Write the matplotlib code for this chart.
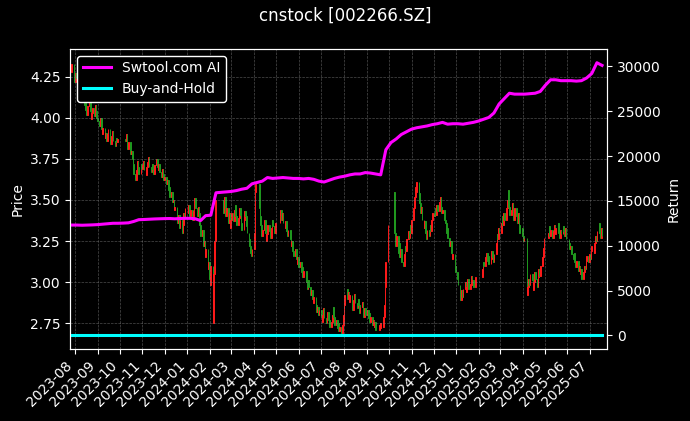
import matplotlib
matplotlib.use('Agg')
import matplotlib.pyplot as plt
import matplotlib.dates as mdates
import numpy as np
import pandas as pd

# ------------------------------------------------------------
# data
# ------------------------------------------------------------
holidays = ['2023-09-29', '2023-10-02', '2023-10-03', '2023-10-04', '2023-10-05', '2023-10-06',
            '2024-01-01', '2024-02-09', '2024-02-12', '2024-02-13', '2024-02-14', '2024-02-15',
            '2024-02-16', '2024-04-04', '2024-04-05', '2024-05-01', '2024-05-02', '2024-05-03',
            '2024-06-10', '2024-09-16', '2024-09-17', '2024-10-01', '2024-10-02', '2024-10-03',
            '2024-10-04', '2024-10-07', '2025-01-01', '2025-01-28', '2025-01-29', '2025-01-30',
            '2025-01-31', '2025-02-03', '2025-02-04', '2025-04-04', '2025-05-01', '2025-05-02',
            '2025-05-05', '2025-06-02']

close = [
    # 2023-07
    4.28, 4.33, 4.25,
    # 2023-08
    4.22, 4.27, 4.24, 4.18, 4.20, 4.15, 4.12, 4.16, 4.10, 4.08, 4.13, 4.05, 4.02, 4.07, 4.10,
    4.04, 3.99, 4.03, 4.06, 4.01, 4.08, 4.04, 4.00,
    # 2023-09
    3.98, 3.95, 4.00, 3.93, 3.90, 3.94, 3.88, 3.91, 3.86, 3.90, 3.93, 3.87, 3.84, 3.89, 3.92,
    3.86, 3.83, 3.88, 3.85, 3.87,
    # 2023-10
    3.86, 3.90, 3.84, 3.81, 3.85, 3.78, 3.80, 3.75, 3.72, 3.66, 3.62, 3.68, 3.74, 3.70, 3.66,
    3.72, 3.69,
    # 2023-11
    3.71, 3.74, 3.68, 3.65, 3.70, 3.73, 3.76, 3.70, 3.67, 3.72, 3.69, 3.66, 3.71, 3.75, 3.70,
    3.68, 3.72, 3.67, 3.64, 3.69, 3.66, 3.62,
    # 2023-12
    3.64, 3.60, 3.62, 3.56, 3.58, 3.52, 3.55, 3.49, 3.50, 3.44, 3.46, 3.40, 3.36, 3.41, 3.33,
    3.38, 3.30, 3.35, 3.42, 3.39, 3.45,
    # 2024-01
    3.42, 3.47, 3.40, 3.44, 3.38, 3.43, 3.48, 3.51, 3.45, 3.40, 3.46, 3.42, 3.35, 3.28, 3.32,
    3.22, 3.25, 3.15, 3.20, 3.08, 3.12, 3.02,
    # 2024-02
    2.98, 3.10, 2.75, 3.05, 3.25, 3.50, 3.42, 3.48, 3.52, 3.40, 3.45, 3.36, 3.42, 3.33, 3.38,
    # 2024-03
    3.42, 3.37, 3.44, 3.47, 3.40, 3.35, 3.39, 3.45, 3.41, 3.36, 3.32, 3.38, 3.43, 3.40, 3.34,
    3.30, 3.26, 3.22, 3.18, 3.16, 3.20,
    # 2024-04
    3.30, 3.55, 3.60, 3.45, 3.40, 3.35, 3.28, 3.32, 3.38, 3.30, 3.25, 3.29, 3.35, 3.31, 3.27,
    3.33, 3.38, 3.34, 3.30, 3.36,
    # 2024-05
    3.40, 3.44, 3.38, 3.42, 3.36, 3.33, 3.37, 3.31, 3.28, 3.32, 3.26, 3.22, 3.25, 3.19, 3.16,
    3.20, 3.14, 3.11, 3.15, 3.09,
    # 2024-06
    3.12, 3.06, 3.09, 3.03, 3.07, 3.00, 2.96, 3.01, 2.97, 2.92, 2.95, 2.90, 2.87, 2.91, 2.86,
    2.82, 2.85, 2.80, 2.83,
    # 2024-07
    2.79, 2.76, 2.80, 2.84, 2.78, 2.75, 2.79, 2.82, 2.77, 2.73, 2.76, 2.80, 2.85, 2.79, 2.74,
    2.77, 2.72, 2.75, 2.70, 2.73, 2.69, 2.74, 2.80,
    # 2024-08
    2.86, 2.92, 2.96, 2.90, 2.94, 2.88, 2.92, 2.86, 2.83, 2.89, 2.93, 2.87, 2.84, 2.90, 2.86,
    2.81, 2.85, 2.88, 2.82, 2.79, 2.84, 2.80,
    # 2024-09
    2.83, 2.78, 2.81, 2.76, 2.79, 2.74, 2.77, 2.73, 2.76, 2.71, 2.74, 2.72, 2.75, 2.73, 2.79,
    2.86, 2.97, 3.12, 3.35,
    # 2024-10
    3.55, 3.30, 3.22, 3.28, 3.18, 3.24, 3.15, 3.20, 3.12, 3.10, 3.17, 3.22, 3.19, 3.26, 3.31,
    3.27, 3.35, 3.30,
    # 2024-11
    3.38, 3.45, 3.52, 3.58, 3.55, 3.61, 3.54, 3.48, 3.42, 3.46, 3.38, 3.33, 3.37, 3.30, 3.26,
    3.32, 3.28, 3.35, 3.31, 3.38, 3.42,
    # 2024-12
    3.40, 3.45, 3.41, 3.47, 3.43, 3.49, 3.52, 3.46, 3.42, 3.44, 3.38, 3.36, 3.30, 3.33, 3.27,
    3.22, 3.25, 3.18, 3.14, 3.17, 3.10, 3.06,
    # 2025-01
    3.02, 2.98, 2.93, 2.89, 2.95, 2.91, 2.96, 3.00, 2.94, 2.97, 3.02, 2.96, 2.99, 3.04, 2.98,
    3.01, 2.97, 3.03,
    # 2025-02
    3.08, 3.12, 3.10, 3.15, 3.18, 3.13, 3.16, 3.11, 3.14, 3.19, 3.15, 3.12, 3.17, 3.24, 3.29,
    3.26, 3.33, 3.30,
    # 2025-03
    3.36, 3.40, 3.35, 3.42, 3.38, 3.45, 3.50, 3.56, 3.46, 3.41, 3.44, 3.48, 3.42, 3.38, 3.45,
    3.40, 3.36, 3.42, 3.35, 3.30, 3.33,
    # 2025-04
    3.28, 3.25, 3.27, 2.92, 2.97, 3.02, 2.98, 3.05, 3.01, 2.95, 3.00, 3.06, 3.02, 2.97, 3.03,
    3.08, 3.04, 3.10, 3.15, 3.21, 3.27,
    # 2025-05
    3.30, 3.34, 3.28, 3.32, 3.27, 3.31, 3.35, 3.29, 3.33, 3.36, 3.30, 3.27, 3.32, 3.29, 3.34,
    3.31, 3.28, 3.33, 3.26,
    # 2025-06
    3.24, 3.20, 3.22, 3.17, 3.14, 3.18, 3.12, 3.09, 3.13, 3.07, 3.10, 3.05, 3.08, 3.02, 3.06,
    3.10, 3.08, 3.13, 3.16, 3.12,
    # 2025-07
    3.17, 3.14, 3.19, 3.22, 3.18, 3.24, 3.28, 3.25, 3.31, 3.36, 3.30, 3.27, 3.33, 3.28,
]

# weekly strategy equity (right axis)
ai_return = [
    # 2023
    12300, 12300, 12280, 12300, 12320, 12350, 12400, 12450, 12500, 12500, 12520, 12550,
    12700, 12900, 12920, 12950, 12980, 13000, 13020, 13030, 13000, 13030, 13050,
    # 2024
    13050, 13000, 12800, 13350, 13400, 15900, 15950, 16000, 16050, 16150, 16300, 16400,
    16900, 17050, 17200, 17600, 17500, 17550, 17600, 17550, 17500, 17500, 17450, 17500,
    17400, 17200, 17100, 17300, 17500, 17650, 17750, 17900, 18000, 18000, 18150, 18100,
    18000, 17900, 20700, 21500, 21900, 22400, 22700, 23000, 23150, 23250, 23350, 23500,
    23600, 23750, 23550, 23600,
    # 2025
    23600, 23550, 23650, 23750, 23900, 24100, 24300, 24800, 25800, 26400, 27000, 26900,
    26900, 26900, 26950, 27000, 27200, 27900, 28500, 28500, 28400, 28400, 28400, 28350,
    28400, 28700, 29200, 30400, 30100,
]

trade_days = pd.bdate_range('2023-07-27', '2025-07-18')
trade_days = trade_days[~trade_days.isin(pd.to_datetime(holidays))]
n = min(len(trade_days), len(close))
trade_days = trade_days[:n]
close = np.array(close[:n])
open_ = np.r_[close[0], close[:-1]]

week_dates = pd.date_range('2023-07-28', '2025-07-18', freq='W-FRI')
m = min(len(week_dates), len(ai_return))
week_dates = week_dates[:m]
ai_return = np.array(ai_return[:m])
bh_return = np.zeros(m)

# ------------------------------------------------------------
# plot
# ------------------------------------------------------------
plt.style.use('dark_background')
fig = plt.figure(figsize=(6.9, 4.21), dpi=100)
ax = fig.add_axes([0.102, 0.171, 0.778, 0.713])
ax2 = ax.twinx()

up = close >= open_
colors = np.where(up, '#ff1a1a', '#1f9a1f')
x = mdates.date2num(trade_days)
ax.bar(x, close - open_, bottom=open_, width=1.0, color=colors,
       edgecolor=colors, linewidth=0.7)

ax2.plot(week_dates, ai_return, color='#ff00ff', lw=2.2, label='Swtool.com AI')
ax2.plot(week_dates, bh_return, color='#00ffff', lw=2.2, label='Buy-and-Hold')

ax.set_xlim(mdates.date2num(pd.Timestamp('2023-07-26')), mdates.date2num(pd.Timestamp('2025-07-25')))
ax.set_ylim(2.593, 4.42)
ax2.set_ylim(-1520, 31950)

ax.xaxis.set_major_locator(mdates.MonthLocator())
ax.xaxis.set_major_formatter(mdates.DateFormatter('%Y-%m'))
plt.setp(ax.get_xticklabels(), rotation=45, ha='right')

ax.grid(True, color='gray', linestyle='--', linewidth=0.5, alpha=0.6)
ax.set_ylabel('Price')
ax2.set_ylabel('Return')
fig.suptitle('cnstock [002266.SZ]', fontsize=12, y=0.985)

ax2.legend(loc='upper left', fontsize=10, framealpha=1, facecolor='black', edgecolor='white')

plt.savefig('out.png', dpi=100, facecolor='black')
